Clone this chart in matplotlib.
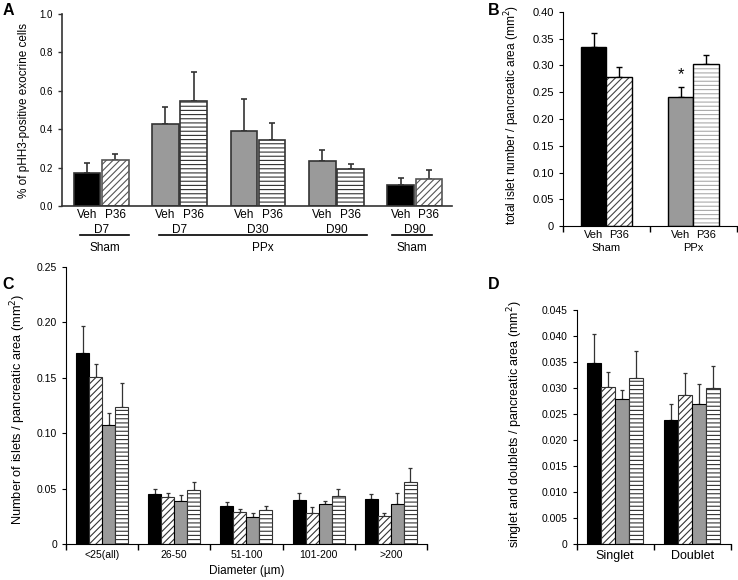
import numpy as np
import matplotlib
matplotlib.use("Agg")
from matplotlib import pyplot as plt

plt.rcParams['font.family'] = ['Liberation Sans', 'DejaVu Sans']
plt.rcParams['hatch.linewidth'] = 0.8

# panel A: % pHH3-positive exocrine cells
a_bar_labels = ["Veh", "P36"]
a_days = ["D7", "D7", "D30", "D90", "D90"]
a_veh = [0.17, 0.425, 0.39, 0.235, 0.109]
a_veh_err = [0.052, 0.09, 0.165, 0.055, 0.035]
a_p36 = [0.24, 0.545, 0.345, 0.193, 0.14]
a_p36_err = [0.03, 0.155, 0.09, 0.024, 0.047]
a_sham = [True, False, False, False, True]

# panel B: total islet number
b_groups = ["Sham", "PPx"]
b_veh = [0.335, 0.242]
b_veh_err = [0.025, 0.018]
b_p36 = [0.279, 0.302]
b_p36_err = [0.019, 0.018]

# panel C: islets by diameter
c_cats = ["<25(all)", "26-50", "51-100", "101-200", ">200"]
c_sham_veh = [0.172, 0.045, 0.034, 0.040, 0.041]
c_sham_veh_err = [0.025, 0.005, 0.004, 0.006, 0.004]
c_sham_p36 = [0.151, 0.042, 0.029, 0.028, 0.025]
c_sham_p36_err = [0.011, 0.004, 0.003, 0.005, 0.003]
c_ppx_veh = [0.107, 0.039, 0.024, 0.036, 0.036]
c_ppx_veh_err = [0.011, 0.005, 0.004, 0.003, 0.010]
c_ppx_p36 = [0.124, 0.049, 0.031, 0.043, 0.056]
c_ppx_p36_err = [0.021, 0.007, 0.003, 0.007, 0.013]

# panel D: singlets / doublets
d_cats = ["Singlet", "Doublet"]
d_sham_veh = [0.0348, 0.0239]
d_sham_veh_err = [0.0056, 0.0031]
d_sham_p36 = [0.0302, 0.0286]
d_sham_p36_err = [0.0029, 0.0043]
d_ppx_veh = [0.0279, 0.0269]
d_ppx_veh_err = [0.0017, 0.0039]
d_ppx_p36 = [0.0320, 0.0300]
d_ppx_p36_err = [0.0051, 0.0042]

GRAY = "#9a9a9a"

fig = plt.figure(figsize=(7.38, 5.8), dpi=100)


def upper_err(ax, x, y, e, color, lw=1.0, cap=2):
    ax.errorbar(x, y, yerr=[np.zeros(len(e)), e], fmt="none", ecolor=color,
                elinewidth=lw, capsize=cap, capthick=lw, zorder=1)


# ---------------- A ----------------
axA = fig.add_axes([0.084, 0.6448, 0.528, 0.331])
edge = "#333333"
x = np.arange(len(a_veh))
w = 0.34
veh_col = ["black" if s else GRAY for s in a_sham]
p36_hatch = ["/////" if s else "----" for s in a_sham]
axA.bar(x - 0.18, a_veh, w, color=veh_col, edgecolor=edge, linewidth=1.2, zorder=2)
for i in range(len(x)):
    axA.bar(x[i] + 0.18, a_p36[i], w, color="white", edgecolor=edge if not a_sham[i] else "#555555",
            hatch=p36_hatch[i], linewidth=1.2, zorder=2)
upper_err(axA, x - 0.18, a_veh, a_veh_err, edge, 1.2, 2.5)
upper_err(axA, x + 0.18, a_p36, a_p36_err, edge, 1.2, 2.5)
axA.set_xlim(-0.5, 4.47)
axA.set_ylim(0, 1.0)
axA.set_yticks(np.arange(0, 1.01, 0.2))
axA.set_yticklabels(["%.1f" % v for v in np.arange(0, 1.01, 0.2)])
axA.set_xticks(np.concatenate([x - 0.18, x + 0.18]))
axA.set_xticklabels([a_bar_labels[0]] * len(x) + [a_bar_labels[1]] * len(x))
axA.tick_params(axis="x", length=0, pad=2, labelsize=8.5)
axA.tick_params(axis="y", labelsize=7, color=edge, length=3, width=1)
for s in ["top", "right"]:
    axA.spines[s].set_visible(False)
for s in ["left", "bottom"]:
    axA.spines[s].set_color(edge)
    axA.spines[s].set_linewidth(1.2)
axA.set_ylabel("% of pHH3-positive exocrine cells", fontsize=8.5)
axA.yaxis.set_label_coords(-0.082, 0.5)
tr = axA.get_xaxis_transform()
for i, d in enumerate(a_days):
    axA.text(x[i], -0.125, d, transform=tr, ha="center", va="center", fontsize=8.5)
# group lines: sham D7, PPx, sham D90
for x0, x1, name in [(-0.27, 0.36, "Sham"), (0.74, 3.39, "PPx"), (3.71, 4.22, "Sham")]:
    axA.plot([x0, x1], [-0.151, -0.151], transform=tr, color="black", lw=1.2, clip_on=False)
    axA.text((x0 + x1) / 2, -0.219, name, transform=tr, ha="center", va="center", fontsize=8.5)

# ---------------- B ----------------
axB = fig.add_axes([0.7625, 0.610, 0.236, 0.3695])
xb = np.arange(len(b_groups))
axB.bar(xb - 0.145, b_veh, 0.29, color=["black", GRAY], edgecolor="black", linewidth=1.0, zorder=2)
for i in range(len(xb)):
    axB.bar(xb[i] + 0.145, b_p36[i], 0.29, color="white",
            edgecolor="#444444" if i == 0 else "#aaaaaa",
            hatch="/////" if i == 0 else "----", linewidth=0, zorder=2)
    axB.bar(xb[i] + 0.145, b_p36[i], 0.29, color="none", edgecolor="black", linewidth=1.0, zorder=3)
upper_err(axB, xb - 0.145, b_veh, b_veh_err, "black", 1.0, 2)
upper_err(axB, xb + 0.145, b_p36, b_p36_err, "black", 1.0, 2)
axB.text(xb[1] - 0.145, b_veh[1] + b_veh_err[1] + 0.008, "*", ha="center", va="bottom", fontsize=12)
axB.set_xlim(-0.5, 1.5)
axB.set_ylim(0, 0.40)
yt = np.arange(0, 0.401, 0.05)
axB.set_yticks(yt)
axB.set_yticklabels(["0"] + ["%.2f" % v for v in yt[1:]])
axB.set_xticks(np.concatenate([xb - 0.145, xb + 0.145]))
axB.set_xticklabels(["Veh"] * 2 + ["P36"] * 2)
axB.set_xticks([-0.5, 0.5, 1.5], minor=True)
axB.tick_params(axis="x", which="major", length=0, pad=3, labelsize=8)
axB.tick_params(axis="x", which="minor", length=4, width=1)
axB.tick_params(axis="y", labelsize=8, length=3)
for s in ["top", "right"]:
    axB.spines[s].set_visible(False)
axB.set_ylabel("total islet number / pancreatic area (mm$^2$)", fontsize=8.6)
axB.yaxis.set_label_coords(-0.234, 0.52)
trb = axB.get_xaxis_transform()
for i, g in enumerate(b_groups):
    axB.text(xb[i], -0.103, g, transform=trb, ha="center", va="center", fontsize=8)

# ---------------- C / D helper ----------------
series_style = [
    dict(color="black", hatch=None),
    dict(color="white", hatch="/////"),
    dict(color=GRAY, hatch=None),
    dict(color="white", hatch="----"),
]


def four_bars(ax, vals, errs):
    n = len(vals[0])
    xs = np.arange(n)
    offs = [-0.27, -0.09, 0.09, 0.27]
    for k in range(4):
        st = series_style[k]
        ax.bar(xs + offs[k], vals[k], 0.18, color=st["color"], hatch=st["hatch"],
               edgecolor="#333333" if st["hatch"] else "black", linewidth=0.8, zorder=2)
        upper_err(ax, xs + offs[k], vals[k], errs[k], "#333333", 0.9, 1.5)
    ax.set_xlim(-0.5, n - 0.5)
    ax.set_xticks(xs)
    ax.set_xticks(np.arange(n + 1) - 0.5, minor=True)
    ax.tick_params(axis="x", which="major", length=0, pad=4)
    ax.tick_params(axis="x", which="minor", length=4, width=1)
    ax.tick_params(axis="y", length=3)
    for s in ["top", "right"]:
        ax.spines[s].set_visible(False)
    return xs


# ---------------- C ----------------
axC = fig.add_axes([0.0894, 0.062, 0.489, 0.478])
four_bars(axC, [c_sham_veh, c_sham_p36, c_ppx_veh, c_ppx_p36],
          [c_sham_veh_err, c_sham_p36_err, c_ppx_veh_err, c_ppx_p36_err])
axC.set_xticklabels(c_cats, fontsize=7.5)
axC.set_ylim(0, 0.25)
yt = np.arange(0, 0.251, 0.05)
axC.set_yticks(yt)
axC.set_yticklabels(["0"] + ["%.2f" % v for v in yt[1:]], fontsize=7.5)
axC.set_ylabel("Number of islets / pancreatic area (mm$^2$)", fontsize=9.2)
axC.yaxis.set_label_coords(-0.105, 0.487)
axC.set_xlabel("Diameter (\u00b5m)", fontsize=8.5, labelpad=4)

# ---------------- D ----------------
axD = fig.add_axes([0.7814, 0.062, 0.2087, 0.4034])
four_bars(axD, [d_sham_veh, d_sham_p36, d_ppx_veh, d_ppx_p36],
          [d_sham_veh_err, d_sham_p36_err, d_ppx_veh_err, d_ppx_p36_err])
axD.set_xticklabels(d_cats, fontsize=9)
axD.set_ylim(0, 0.045)
yt = np.arange(0, 0.0451, 0.005)
axD.set_yticks(yt)
axD.set_yticklabels(["0"] + ["%.3f" % v for v in yt[1:]], fontsize=7.5)
axD.set_ylabel("singlet and doublets / pancreatic area (mm$^2$)", fontsize=9)
axD.yaxis.set_label_coords(-0.335, 0.513)

# panel letters
for lx, ly, t in [(0.004, 0.995, "A"), (0.661, 0.995, "B"), (0.003, 0.522, "C"), (0.661, 0.522, "D")]:
    fig.text(lx, ly, t, fontsize=11.5, fontweight="bold", va="top")

fig.savefig("out.png", dpi=100)
